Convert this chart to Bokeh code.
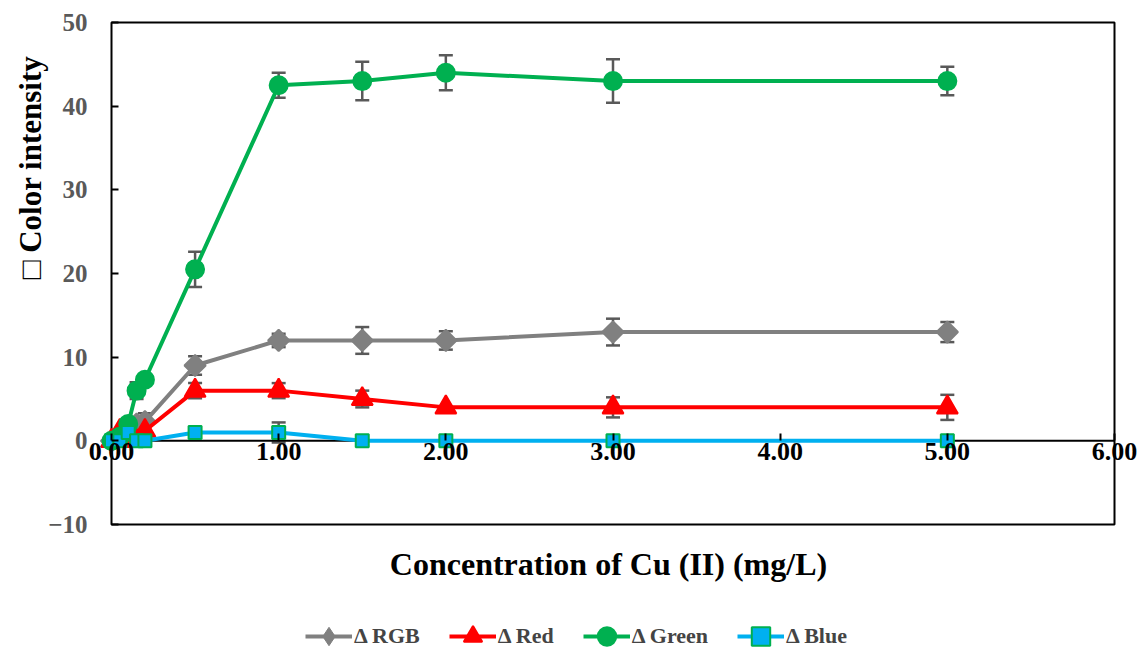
import math
from bokeh.plotting import figure
from bokeh.models import (ColumnDataSource, Whisker, TeeHead, FixedTicker, Label,
                          Legend, LegendItem, LinearAxis, Range1d)
from bokeh.embed import file_html
from bokeh.resources import INLINE

# ---- data ----
conc = [0.0, 0.05, 0.1, 0.15, 0.2, 0.5, 1.0, 1.5, 2.0, 3.0, 5.0]
d_rgb = [0.0, 0.5, 1.0, 2.0, 2.3, 9.0, 12.0, 12.0, 12.0, 13.0, 13.0]
d_red = [0.0, 1.2, 0.0, 0.0, 1.2, 6.0, 6.0, 5.0, 4.0, 4.0, 4.0]
d_green = [0.0, 0.5, 2.0, 6.0, 7.3, 20.5, 42.5, 43.0, 44.0, 43.0, 43.0]
d_blue = [0.0, 0.0, 1.0, 0.0, 0.0, 1.0, 1.0, 0.0, 0.0, 0.0, 0.0]

err_rgb = [0, 0, 0, 0, 1.0, 1.1, 0.8, 1.6, 1.1, 1.6, 1.2]
err_red = [0, 0, 0, 0, 0, 0.9, 0.9, 1.0, 0, 1.2, 1.5]
err_green = [0, 0, 0, 1.0, 0, 2.1, 1.5, 2.3, 2.1, 2.6, 1.7]
err_blue = [0, 0, 0, 0, 0, 0, 1.2, 0, 0, 0, 0]

series_names = ["\u0394 RGB", "\u0394 Red", "\u0394 Green", "\u0394 Blue"]
x_ticks = [0, 1, 2, 3, 4, 5, 6]
x_tick_labels = ["0.00", "1.00", "2.00", "3.00", "4.00", "5.00", "6.00"]
y_ticks = [-10, 0, 10, 20, 30, 40, 50]
x_title = "Concentration of Cu (II) (mg/L)"
y_title = "\u25a1 Color intensity"

FONT = "Liberation Serif"
W, H = 1143, 648

# pixel layout of the plotting box inside the canvas
box_left, box_right, box_top, box_bottom = 111, 1114, 22, 524
x0, x1 = x_ticks[0], x_ticks[-1]
y0, y1 = y_ticks[0], y_ticks[-1]
kx = (box_right - box_left) / (x1 - x0)
ky = (box_bottom - box_top) / (y1 - y0)
x_lo = x0 - box_left / kx
x_hi = x_lo + W / kx
y_hi = y1 + box_top / ky
y_lo = y_hi - H / ky

p = figure(width=W, height=H, x_range=Range1d(x_lo, x_hi), y_range=Range1d(y_lo, y_hi),
           output_backend="svg", toolbar_location=None,
           x_axis_location=None, y_axis_location=None,
           min_border_left=0, min_border_right=0, min_border_top=0, min_border_bottom=0)
p.xgrid.visible = False
p.ygrid.visible = False
p.outline_line_color = None
p.background_fill_color = "white"
p.border_fill_color = "white"

# plot box
p.quad(left=[x0], right=[x1], bottom=[y0], top=[y1], fill_color=None,
       line_color="black", line_width=2)
# x axis line at y = 0
p.line(x=[x0, x1], y=[0, 0], line_color="black", line_width=2)

xa = LinearAxis(fixed_location=0)
xa.ticker = FixedTicker(ticks=x_ticks)
xa.major_label_overrides = {t: l for t, l in zip(x_ticks, x_tick_labels)}
xa.axis_line_color = None
xa.major_tick_in = 7
xa.major_tick_out = 0
xa.major_tick_line_width = 2
xa.major_tick_line_color = "black"
xa.minor_tick_line_color = None
xa.major_label_text_font = FONT
xa.major_label_text_font_style = "bold"
xa.major_label_text_font_size = "26px"
xa.major_label_text_color = "black"
xa.major_label_standoff = 2
p.add_layout(xa, "below")

ya = LinearAxis(fixed_location=0)
ya.ticker = FixedTicker(ticks=y_ticks)
ya.axis_line_color = None
ya.major_tick_in = 7
ya.major_tick_out = 0
ya.major_tick_line_width = 2
ya.major_tick_line_color = "black"
ya.minor_tick_line_color = None
ya.major_label_text_font = FONT
ya.major_label_text_font_style = "bold"
ya.major_label_text_font_size = "25px"
ya.major_label_text_color = "#595959"
ya.major_label_standoff = 24
p.add_layout(ya, "left")

styles = [
    dict(color="#808080", marker="square", size=15, angle=math.pi / 4, fill="#808080",
         line="#808080", legend_marker="diamond"),
    dict(color="#FF0000", marker="triangle", size=21, angle=0, fill="#FF0000",
         line="#FF0000", legend_marker=None),
    dict(color="#00B050", marker="circle", size=18, angle=0, fill="#00B050",
         line="#00B050", legend_marker=None),
    dict(color="#00B0F0", marker="square", size=13, angle=0, fill="#00B0F0",
         line="#00B050", legend_marker=None),
]
values = [d_rgb, d_red, d_green, d_blue]
errors = [err_rgb, err_red, err_green, err_blue]

items = []
for name, vals, errs, st in zip(series_names, values, errors, styles):
    src = ColumnDataSource(dict(x=conc, y=vals))
    ex = [c for c, e in zip(conc, errs) if e > 0]
    eu = [v + e for v, e in zip(vals, errs) if e > 0]
    el = [v - e for v, e in zip(vals, errs) if e > 0]
    esrc = ColumnDataSource(dict(x=ex, upper=eu, lower=el))
    w = Whisker(source=esrc, base="x", upper="upper", lower="lower",
                line_color="#595959", line_width=2.5, level="underlay",
                upper_head=TeeHead(size=14, line_color="#595959", line_width=2.5),
                lower_head=TeeHead(size=14, line_color="#595959", line_width=2.5))
    p.add_layout(w)
    ln = p.line("x", "y", source=src, line_color=st["color"], line_width=4)
    lg = None
    if st["legend_marker"]:
        # diamond used for the legend entry (legends do not rotate markers);
        # in the plot it is hidden under the rotated square drawn next
        lg = p.scatter("x", "y", source=src, marker=st["legend_marker"], size=12,
                       fill_color=st["fill"], line_color=st["line"], line_width=1)
    sc = p.scatter("x", "y", source=src, marker=st["marker"], size=st["size"],
                   angle=st["angle"], fill_color=st["fill"], line_color=st["line"],
                   line_width=2)
    items.append(LegendItem(label=name, renderers=[ln, lg if lg is not None else sc]))

legend = Legend(items=items, orientation="horizontal", location=(305, -11),
                background_fill_alpha=0, border_line_alpha=0,
                label_text_font=FONT, label_text_font_style="bold",
                label_text_font_size="22px", glyph_width=47, glyph_height=46,
                spacing=29, label_standoff=2, padding=0, margin=0)
p.add_layout(legend, "center")

p.add_layout(Label(x=608, y=H - 563, x_units="screen", y_units="screen",
                   text=x_title, text_align="center", text_baseline="middle",
                   text_font=FONT, text_font_style="bold", text_font_size="32px",
                   text_color="black"))
p.add_layout(Label(x=30, y=H - 167, x_units="screen", y_units="screen",
                   text=y_title, angle=math.pi / 2, text_align="center",
                   text_baseline="middle", text_font=FONT, text_font_style="bold",
                   text_font_size="31px", text_color="black"))

open("out.html", "w").write(file_html(p, INLINE))
